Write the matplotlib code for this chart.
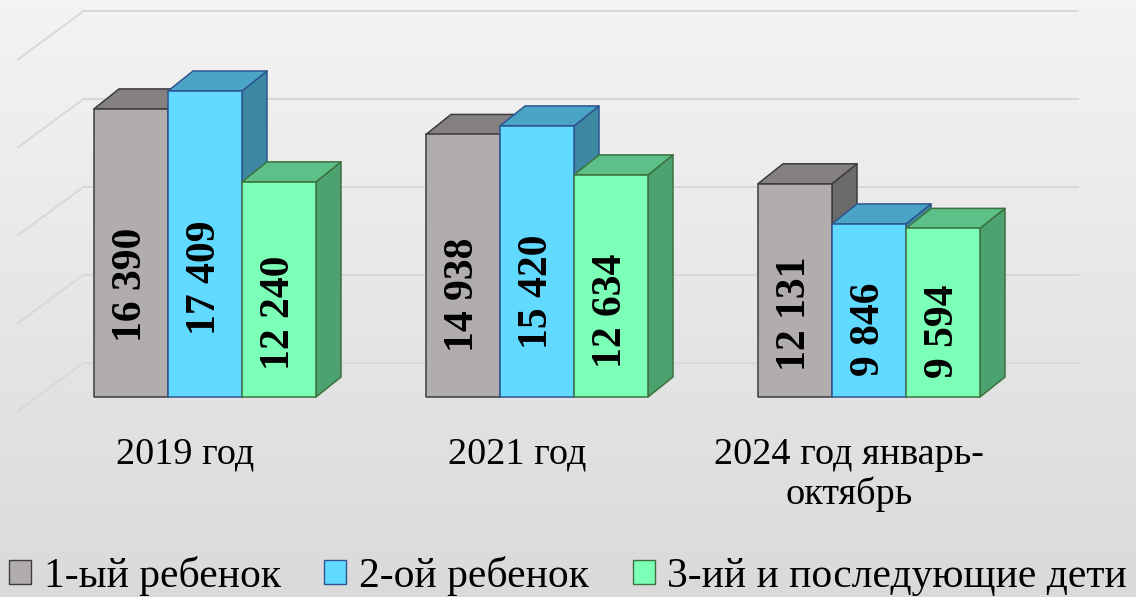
# Births by order of child, pseudo-3D clustered columns
import numpy as np
import matplotlib.pyplot as plt
from matplotlib.patches import Polygon, Patch

categories = ["2019 год", "2021 год", "2024 год январь-\nоктябрь"]
series_names = ["1-ый ребенок", "2-ой ребенок", "3-ий и последующие дети"]
first_child = [16390, 14938, 12131]
second_child = [17409, 15420, 9846]
third_child = [12240, 12634, 9594]
grid_values = [0, 5000, 10000, 15000, 20000]

series = [first_child, second_child, third_child]
# front, top, side, edge
colors = [
    ("#b0adac", "#858181", "#6d6a6a", "#3d3d3d"),
    ("#62d9ff", "#4aa4c5", "#3d89a4", "#2e5590"),
    ("#7cffb6", "#5cc088", "#4da370", "#3d723f"),
]

plt.rcParams["font.family"] = ["Liberation Serif", "DejaVu Serif"]

W, H = 1136, 597
vscale = 306 / 17409          # pixels per unit of value
base_px = 397                 # pixel row of value 0 on bar front plane
gpx = 332                     # pixels between groups
c0px = 205                    # pixel column of the first group centre

fig = plt.figure(figsize=(W / 100, H / 100), dpi=100)
ax = fig.add_axes([0, 0, 1, 1])
x0, x1 = -c0px / gpx, (W - c0px) / gpx
y0, y1 = (base_px - H) / vscale, base_px / vscale
ax.set_xlim(x0, x1)
ax.set_ylim(y0, y1)
ax.axis("off")

# background gradient, light at the top
shade = np.linspace(0.955, 0.855, 256)
grad = np.dstack([shade, shade, shade]).reshape(256, 1, 3)
ax.imshow(grad, extent=(x0, x1, y0, y1), aspect="auto", origin="upper", zorder=0)

# walls / gridlines
bdx, bdy = 46 / gpx, 34 / vscale
back_left, back_right = (83 - c0px) / gpx, (1078 - c0px) / gpx
front_left = (18 - c0px) / gpx
side_drop = 48 / vscale
for g in grid_values:
    yb = g + bdy
    ax.plot([back_left, back_right], [yb, yb], color="#d8d8d8", lw=1.4, zorder=1)
    ax.plot([front_left, back_left], [yb - side_drop, yb], color="#d8d8d8", lw=1.4, zorder=1)

# bars
w = 74 / gpx
ddx, ddy = 25 / gpx, 20 / vscale
z = 2
for i in range(len(categories)):
    for j, vals in enumerate(series):
        v = vals[i]
        front, top, side, edge = colors[j]
        xl = i - 1.5 * w + j * w
        xr = xl + w
        side_poly = [(xr, 0), (xr + ddx, ddy), (xr + ddx, v + ddy), (xr, v)]
        top_poly = [(xl, v), (xl + ddx, v + ddy), (xr + ddx, v + ddy), (xr, v)]
        front_poly = [(xl, 0), (xr, 0), (xr, v), (xl, v)]
        for poly, fc in ((side_poly, side), (top_poly, top), (front_poly, front)):
            ax.add_patch(Polygon(poly, closed=True, facecolor=fc, edgecolor=edge,
                                 lw=1.1, joinstyle="round", zorder=z))
            z += 1
        label = f"{v:,}".replace(",", " ")
        ax.text((xl + xr) / 2, v * 0.39, label, rotation=90, ha="center", va="center",
                fontsize=30, fontweight="bold", color="black", zorder=z)
        z += 1

# category labels
for i, cat in enumerate(categories):
    ax.text(i - 20 / gpx, (base_px - 437) / vscale, cat, ha="center", va="top",
            fontsize=27.5, color="black", linespacing=1.2)

handles = [Patch(facecolor=c[0], edgecolor=c[3], lw=1.0) for c in colors]
fig.legend(handles, series_names, loc="lower center", bbox_to_anchor=(0.5, -0.036),
           ncol=3, frameon=False, fontsize=30, handlelength=0.53, handleheight=0.53,
           handletextpad=0.3, columnspacing=1.05, borderaxespad=0.15)

fig.savefig("out.png", dpi=100)
